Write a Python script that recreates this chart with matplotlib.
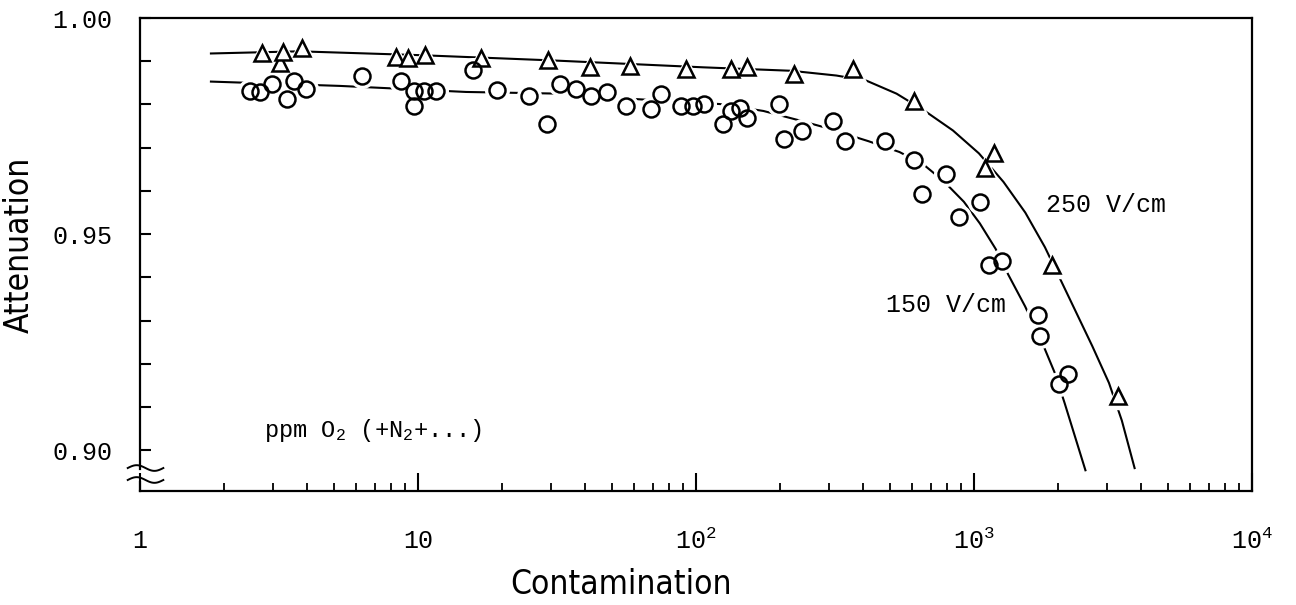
import numpy as np
import matplotlib
matplotlib.use("Agg")
import matplotlib.pyplot as plt
from matplotlib.ticker import LogLocator, NullFormatter
from matplotlib.transforms import blended_transform_factory

# Data (attenuation vs contamination, ppm O2)
# 250 V/cm - triangles
x_250 = [2.74, 3.2, 3.27, 3.84, 8.31, 9.2, 10.6, 16.8, 29.3, 41.7, 57.7, 92, 134, 152,
         226, 366, 607, 1100, 1178, 1914, 3311]
y_250 = [0.9918, 0.9897, 0.9921, 0.9930, 0.9909, 0.9907, 0.9914, 0.9907, 0.9902, 0.9886,
         0.9890, 0.9883, 0.9883, 0.9886, 0.9871, 0.9881, 0.9808, 0.9653, 0.9688, 0.9428, 0.9126]

# 150 V/cm - circles
x_150 = [2.49, 2.71, 2.99, 3.39, 3.59, 3.96, 6.28, 8.67, 9.69, 9.69, 10.5, 11.6, 15.8, 19.2,
         25.0, 29.1, 32.5, 36.9, 41.8, 48.0, 55.9, 68.9, 74.8, 88.3, 97.4, 107, 125, 134,
         144, 152, 199, 207, 240, 312, 344, 480, 607, 650, 796, 883, 1050, 1130, 1259,
         1700, 1722, 2028, 2172]
y_150 = [0.9832, 0.9828, 0.9848, 0.9812, 0.9855, 0.9836, 0.9867, 0.9855, 0.9832, 0.9797,
         0.9832, 0.9832, 0.9879, 0.9833, 0.9820, 0.9754, 0.9847, 0.9836, 0.9820, 0.9828,
         0.9797, 0.9789, 0.9824, 0.9797, 0.9797, 0.9802, 0.9754, 0.9785, 0.9793, 0.9769,
         0.9801, 0.9721, 0.9738, 0.9762, 0.9715, 0.9715, 0.9671, 0.9594, 0.9639, 0.9540,
         0.9575, 0.9428, 0.9438, 0.9312, 0.9264, 0.9153, 0.9176]

# hand-drawn fit curves
fit_x_250 = [1.8, 3.74, 10.3, 30.3, 106, 220, 320, 411, 527, 666, 840, 1042, 1277, 1530, 1800,
             2051, 2666, 3060, 3404, 3784]
fit_y_250 = [0.9918, 0.9923, 0.9914, 0.9902, 0.9886, 0.9878, 0.9867, 0.9855, 0.9825, 0.9785,
             0.9740, 0.9687, 0.9621, 0.9550, 0.9470, 0.9394, 0.9241, 0.9156, 0.9069, 0.8959]
fit_x_150 = [1.8, 5.24, 14.9, 33, 59, 122, 175, 233, 287, 418, 540, 659, 780, 920, 1050, 1197,
             1330, 1528, 1800, 1954, 2118, 2518]
fit_y_150 = [0.9853, 0.9843, 0.9829, 0.9825, 0.9813, 0.9801, 0.9785, 0.9764, 0.9748, 0.9715,
             0.9690, 0.9661, 0.9622, 0.9575, 0.9525, 0.9466, 0.9406, 0.9333, 0.9234, 0.9179,
             0.9110, 0.8954]

x_ticks = [1, 10, 100, 1000, 10000]
x_tick_labels = ['1', '10', '10$^2$', '10$^3$', '10$^4$']
y_ticks = [0.90, 0.95, 1.00]
y_tick_labels = ['0.90', '0.95', '1.00']

plt.rcParams['mathtext.fontset'] = 'custom'
plt.rcParams['mathtext.rm'] = 'Liberation Mono'
plt.rcParams['mathtext.it'] = 'Liberation Mono'
mono = 'Liberation Mono'
narrow = ['Liberation Sans Narrow', 'DejaVu Sans']

fig = plt.figure(figsize=(12.96, 6.05), dpi=100)
ax = fig.add_axes([0.108, 0.1884, 0.858, 0.7818])

ax.set_xscale('log')
ax.set_xlim(1, 10000)
ax.set_ylim(0.8906, 1.0)

# curves
ax.plot(fit_x_250, fit_y_250, color='black', lw=1.5, zorder=2)
ax.plot(fit_x_150, fit_y_150, color='black', lw=1.5, zorder=2)

# white halos so the line breaks around the markers
ax.plot(x_250, y_250, ls='none', marker='^', ms=18, mfc='white', mec='white', zorder=3)
ax.plot(x_150, y_150, ls='none', marker='o', ms=17, mfc='white', mec='white', zorder=3)
ax.plot(x_250, y_250, ls='none', marker='^', ms=11.5, mfc='white', mec='black', mew=1.8, zorder=4)
ax.plot(x_150, y_150, ls='none', marker='o', ms=11.5, mfc='none', mec='black', mew=1.8, zorder=4)

ax.text(1815, 0.9568, '250 V/cm', family=mono, fontsize=18, va='center', ha='left')
ax.text(481, 0.9337, '150 V/cm', family=mono, fontsize=18, va='center', ha='left')
ax.text(2.79, 0.9046, 'ppm O$_2$ (+N$_2$+...)', family=mono, fontsize=17, va='center', ha='left')

# ticks
ax.set_xticks(x_ticks)
ax.set_xticklabels(x_tick_labels, family=mono, fontsize=18)
ax.xaxis.set_minor_locator(LogLocator(base=10, subs=np.arange(2, 10)))
ax.xaxis.set_minor_formatter(NullFormatter())
ax.set_yticks(y_ticks)
ax.set_yticklabels(y_tick_labels, family=mono, fontsize=18)
ax.set_yticks(np.arange(0.90, 1.0, 0.01), minor=True)
ax.tick_params(axis='x', which='major', direction='in', length=13, width=1.5, pad=27)
ax.tick_params(axis='x', which='minor', direction='in', length=6, width=1.3)
ax.tick_params(axis='y', which='both', direction='in', length=8, width=1.5, pad=20)

for s in ax.spines.values():
    s.set_linewidth(1.6)
ax.spines['left'].set_bounds(0.8958, 1.0)

# axis break on the left spine
tb = blended_transform_factory(ax.transAxes, ax.transData)
ax.plot([0, 0], [0.8906, 0.8928], color='black', lw=1.6, transform=tb, clip_on=False)
wx = np.linspace(-0.011, 0.021, 40)
for y0 in [0.0486, 0.0233]:
    ax.plot(wx, y0 + 0.006 * np.sin((wx + 0.011) / 0.032 * 2 * np.pi), color='black',
            lw=1.4, transform=ax.transAxes, clip_on=False)

ax.set_xlabel('Contamination', family=narrow, fontsize=24, fontstretch='condensed')
ax.set_ylabel('Attenuation', family=narrow, fontsize=24, fontstretch='condensed')
ax.xaxis.set_label_coords(0.433, -0.163)
ax.yaxis.set_label_coords(-0.094, 0.52)

fig.savefig('out.png', dpi=100)
